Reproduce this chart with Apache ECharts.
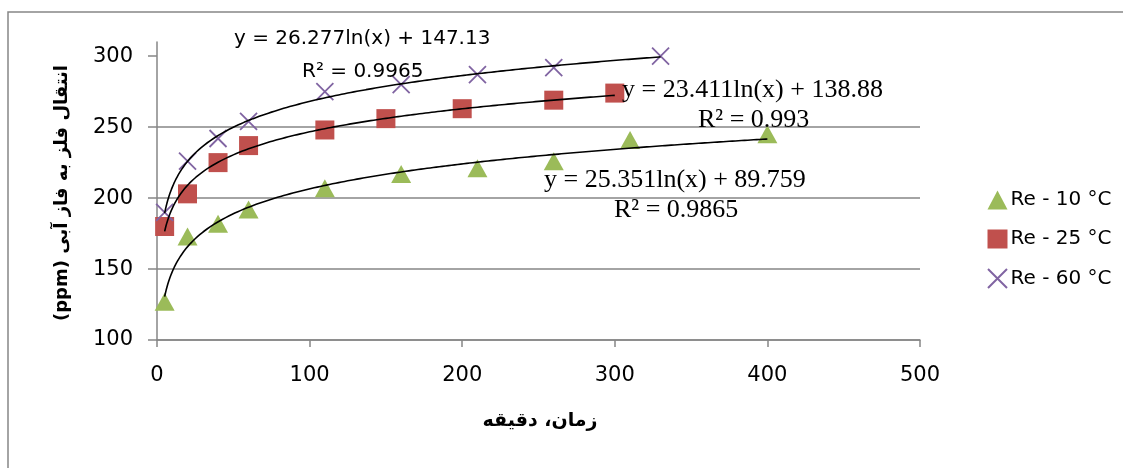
<!DOCTYPE html>
<html>
<head>
<meta charset="utf-8">
<script src="https://cdn.jsdelivr.net/npm/echarts@6/dist/echarts.min.js"></script>
<style>
  html, body { margin: 0; padding: 0; background: #fff; }
  #chart { width: 1123px; height: 468px; }
</style>
</head>
<body>
<div id="chart"></div>
<script>
// Measured concentrations (ppm) against contact time (min)
const seriesNames = ['Re - 10 °C', 'Re - 25 °C', 'Re - 60 °C'];

const time10  = [5, 20, 40, 60, 110, 160, 210, 260, 310, 400];
const metal10 = [127, 173, 182, 192, 207, 217, 221, 226, 241, 245];

const time25  = [5, 20, 40, 60, 110, 150, 200, 260, 300];
const metal25 = [180, 203, 225, 237, 248, 256, 263, 269, 274];

const time60  = [5, 20, 40, 60, 110, 160, 210, 260, 330];
const metal60 = [190, 226, 242, 254, 275, 280, 287, 292, 300];

// Logarithmic trendlines: y = a·ln(x) + b, with their R² values
const fit10 = [25.351, 89.759];
const fit25 = [23.411, 138.88];
const fit60 = [26.277, 147.13];
const rSquared = ['0.9865', '0.993', '0.9965'];

// Axis ticks
const xTicks = [0, 100, 200, 300, 400, 500];
const yTicks = [100, 150, 200, 250, 300];

const xTitle = 'زمان، دقیقه';
const yTitle = 'انتقال فلز به فاز آبی (ppm)';

const colors = ['#9BBB59', '#C0504D', '#8064A2'];
const gridColor = '#868686';
const sans = 'DejaVu Sans';
const serif = 'Liberation Serif';

function pairs(xs, ys) {
  return xs.map((x, i) => [x, ys[i]]);
}

// Sample the fitted curve over the measured time range
function trendCurve(fit, xs) {
  const start = xs[0], end = xs[xs.length - 1];
  const pts = [];
  for (let x = start; x < end; x += (x < 30 ? 0.25 : 1)) {
    pts.push([x, fit[0] * Math.log(x) + fit[1]]);
  }
  pts.push([end, fit[0] * Math.log(end) + fit[1]]);
  return pts;
}

function equation(fit) {
  return 'y = ' + fit[0] + 'ln(x) + ' + fit[1];
}

const crossPath = 'path://M0,0L10,10M10,0L0,10';

function trendSeries(name, fit, xs) {
  return {
    name: name,
    type: 'line',
    data: trendCurve(fit, xs),
    showSymbol: false,
    silent: true,
    z: 5,
    lineStyle: { color: '#000', width: 1.6 },
    emphasis: { disabled: true }
  };
}

const chart = echarts.init(document.getElementById('chart'), null, { renderer: 'canvas' });

chart.setOption({
  animation: false,
  backgroundColor: '#fff',
  grid: { left: 157, top: 42, right: 203, bottom: 128 },
  xAxis: {
    type: 'value',
    min: xTicks[0],
    max: xTicks[xTicks.length - 1],
    interval: 100,
    axisLine: { show: true, lineStyle: { color: gridColor, width: 1.5 } },
    axisTick: { show: true, length: 7, lineStyle: { color: gridColor, width: 1.5 } },
    axisLabel: { color: '#000', fontSize: 21, fontFamily: sans, margin: 25 },
    splitLine: { show: false }
  },
  yAxis: {
    type: 'value',
    min: 100,
    max: 310,
    interval: 50,
    axisLine: { show: true, lineStyle: { color: gridColor, width: 1.5 } },
    axisTick: { show: true, length: 9, customValues: yTicks, lineStyle: { color: gridColor, width: 1.5 } },
    axisLabel: { color: '#000', fontSize: 21, fontFamily: sans, margin: 24, customValues: yTicks },
    splitLine: { show: true, showMaxLine: false, lineStyle: { color: gridColor, width: 1.5 } }
  },
  legend: {
    orient: 'vertical',
    left: 987,
    top: 190,
    padding: 0,
    itemWidth: 20,
    itemHeight: 19,
    itemGap: 19,
    data: seriesNames,
    textStyle: { color: '#000', fontSize: 20, fontFamily: sans, padding: [0, 0, 0, -2] }
  },
  series: [
    {
      name: seriesNames[0],
      type: 'scatter',
      data: pairs(time10, metal10),
      symbol: 'triangle',
      symbolSize: [20, 18],
      itemStyle: { color: colors[0], opacity: 1 },
      z: 3
    },
    {
      name: seriesNames[1],
      type: 'scatter',
      data: pairs(time25, metal25),
      symbol: 'rect',
      symbolSize: 19,
      itemStyle: { color: colors[1], opacity: 1 },
      z: 3
    },
    {
      name: seriesNames[2],
      type: 'scatter',
      data: pairs(time60, metal60),
      symbol: crossPath,
      symbolSize: 17,
      itemStyle: { color: colors[2], borderColor: colors[2], borderWidth: 1.8, opacity: 1 },
      z: 3
    },
    trendSeries('trend-10', fit10, time10),
    trendSeries('trend-25', fit25, time25),
    trendSeries('trend-60', fit60, time60)
  ],
  graphic: [
    // chart frame (left and top edges)
    {
      type: 'polyline',
      silent: true,
      shape: { points: [[8, 468], [8, 12], [1123, 12]] },
      style: { fill: 'none', stroke: gridColor, lineWidth: 1.5 },
      z: 0
    },
    // trendline equations
    {
      type: 'text', x: 234, y: 39, z: 10,
      style: { text: equation(fit60), fontSize: 20, fontFamily: sans, fill: '#000', align: 'left', verticalAlign: 'middle' }
    },
    {
      type: 'text', x: 302, y: 72, z: 10,
      style: { text: 'R² = ' + rSquared[2], fontSize: 20, fontFamily: sans, fill: '#000', align: 'left', verticalAlign: 'middle' }
    },
    {
      type: 'text', x: 622, y: 90, z: 10,
      style: { text: equation(fit25), fontSize: 26, fontFamily: serif, fill: '#000', align: 'left', verticalAlign: 'middle' }
    },
    {
      type: 'text', x: 698, y: 120, z: 10,
      style: { text: 'R² = ' + rSquared[1], fontSize: 26, fontFamily: serif, fill: '#000', align: 'left', verticalAlign: 'middle' }
    },
    {
      type: 'text', x: 544, y: 180, z: 10,
      style: { text: equation(fit10), fontSize: 26, fontFamily: serif, fill: '#000', align: 'left', verticalAlign: 'middle' }
    },
    {
      type: 'text', x: 614, y: 210, z: 10,
      style: { text: 'R² = ' + rSquared[0], fontSize: 26, fontFamily: serif, fill: '#000', align: 'left', verticalAlign: 'middle' }
    },
    // axis titles (right-to-left embedding keeps "(ppm)" at the end of the phrase)
    {
      type: 'text', x: 540, y: 421, z: 10,
      style: { text: xTitle, fontSize: 19, fontWeight: 'bold', fontFamily: sans, fill: '#000', align: 'center', verticalAlign: 'middle' }
    },
    {
      type: 'text', x: 62, y: 193, rotation: Math.PI / 2, z: 10,
      style: { text: '\u202B' + yTitle + '\u202C', fontSize: 18, fontWeight: 'bold', fontFamily: sans, fill: '#000', align: 'center', verticalAlign: 'middle' }
    }
  ]
});
</script>
</body>
</html>
